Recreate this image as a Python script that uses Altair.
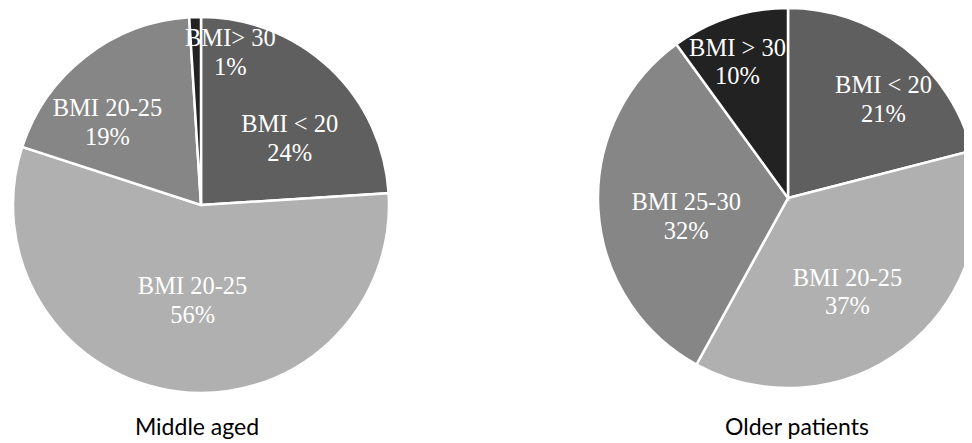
import altair as alt
import pandas as pd

# ---- data ----
panels = ["Middle aged", "Older patients"]
groups = ["lt20", "20-25", "25-30", "gt30"]
middle_labels = ["BMI < 20", "BMI 20-25", "BMI 20-25", "BMI> 30"]
middle_values = [24, 56, 19, 1]
older_labels = ["BMI < 20", "BMI 20-25", "BMI 25-30", "BMI > 30"]
older_values = [21, 37, 32, 10]
colors = ["#5f5f5f", "#b0b0b0", "#868686", "#222222"]

LABEL_FONT = "Liberation Serif"
TITLE_FONT = "Lato"

rows = []
for panel, labels, values in [(panels[0], middle_labels, middle_values),
                              (panels[1], older_labels, older_values)]:
    for i, (lab, val) in enumerate(zip(labels, values)):
        rows.append({"panel": panel, "idx": i, "grp": groups[i], "label": lab, "value": val})
df = pd.DataFrame(rows)

# pie centres (layout) through point scales
xs = alt.X("panel:N", axis=None,
           scale=alt.Scale(type="point", domain=panels, range=[193, 780], padding=0))
ys = alt.Y("panel:N", axis=None,
           scale=alt.Scale(type="point", domain=panels, range=[197, 190], padding=0))
theta_scale = alt.Scale(domain=[0, 100])

base = alt.Chart(df)
layers = []

outer = {panels[0]: 188, panels[1]: 190}
for p in panels:
    layers.append(
        base.transform_filter(alt.datum.panel == p)
        .mark_arc(outerRadius=outer[p], stroke="white", strokeWidth=2.5)
        .encode(
            x=xs, y=ys,
            theta=alt.Theta("value:Q", stack=True, scale=theta_scale),
            color=alt.Color("grp:N", scale=alt.Scale(domain=groups, range=colors), legend=None),
            order=alt.Order("idx:Q"),
        )
    )

# label nudges (dx, dy) from the mid-angle point at radius 115
nudges = {
    panels[0]: [(10, 4), (6, -32), (-23, -5), (33, -51)],
    panels[1]: [(25, -21), (-11, -10), (13, -2), (-15, -40)],
}
for p in panels:
    for i, (dx, dy) in enumerate(nudges[p]):
        layers.append(
            base.transform_filter(alt.datum.panel == p)
            .transform_window(cum="sum(value)", sort=[alt.SortField("idx")])
            .transform_calculate(
                mid="datum.cum - datum.value / 2",
                txt="datum.label + '\\n' + datum.value + '%'",
            )
            .transform_filter(alt.datum.idx == i)
            .mark_text(
                radius=115, dx=dx, dy=dy, lineBreak="\n", lineHeight=28.5,
                font=LABEL_FONT, fontSize=24.5, color="white", baseline="middle", align="center",
            )
            .encode(
                x=xs, y=ys,
                theta=alt.Theta("mid:Q", stack=None, scale=theta_scale),
                text="txt:N",
            )
        )

# panel titles below each pie
title_off = {panels[0]: (-4, 230), panels[1]: (9, 237)}
for p in panels:
    dx, dy = title_off[p]
    layers.append(
        base.transform_filter((alt.datum.panel == p) & (alt.datum.idx == 0))
        .mark_text(font=TITLE_FONT, fontSize=23, color="black", baseline="alphabetic",
                   align="center", dx=dx, dy=dy)
        .encode(x=xs, y=ys, text="panel:N")
    )

chart = alt.layer(*layers).properties(
    width=956, height=435, padding=0,
    autosize=alt.AutoSizeParams(type="none"),
).configure_view(strokeWidth=0)

chart.save("out.html", embed_options={"renderer": "svg", "actions": False})
